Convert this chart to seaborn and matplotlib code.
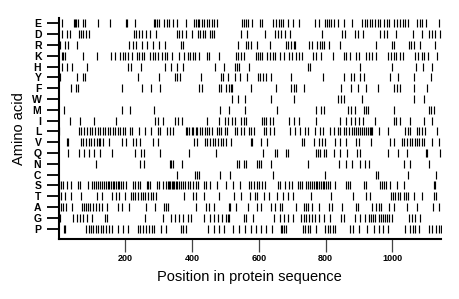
import pandas as pd
import matplotlib
matplotlib.use("Agg")
import matplotlib.pyplot as plt
import seaborn as sns

# =====================================================
# Data: residue positions for each amino acid
# =====================================================

amino_acids = ["E", "D", "R", "K", "H", "Y", "F", "W", "M", "I",
               "L", "V", "Q", "N", "C", "S", "T", "A", "G", "P"]

pos_E = [11, 45, 49, 53, 58, 73, 78, 118, 155, 201, 205, 230, 285, 290, 295, 302, 315, 324, 330,
         344, 356, 381, 406, 412, 417, 422, 429, 436, 444, 452, 459, 467, 474, 548, 554, 560, 566,
         579, 603, 608, 642, 650, 660, 667, 673, 686, 703, 720, 769, 780, 799, 804, 811, 816, 825,
         836, 855, 879, 910, 918, 925, 932, 940, 948, 957, 964, 976, 984, 991, 1005, 1014, 1024,
         1032, 1039, 1046, 1074, 1082, 1090, 1102, 1139]
pos_D = [11, 24, 34, 60, 66, 74, 82, 90, 225, 232, 240, 251, 261, 274, 292, 354, 361, 369, 381,
         399, 418, 425, 432, 440, 454, 460, 467, 546, 564, 617, 647, 656, 667, 679, 692, 789, 848,
         857, 887, 897, 911, 964, 974, 984, 1012, 1061, 1089, 1109, 1119, 1129, 1144]
pos_R = [5, 19, 29, 54, 210, 224, 232, 249, 264, 284, 302, 320, 366, 374, 537, 561, 568, 577,
         594, 632, 682, 688, 696, 704, 709, 750, 760, 773, 784, 789, 796, 809, 844, 952, 1000,
         1006, 1049, 1056, 1066, 1082, 1129]
pos_K = [9, 14, 20, 74, 114, 157, 169, 184, 192, 199, 207, 219, 234, 242, 249, 257, 274, 282,
         289, 297, 309, 318, 326, 341, 361, 377, 389, 394, 402, 410, 422, 444, 451, 481, 530, 536,
         546, 554, 590, 597, 604, 610, 624, 634, 642, 649, 662, 676, 690, 700, 712, 719, 729, 761,
         772, 786, 822, 856, 862, 872, 890, 899, 922, 930, 940, 950, 986, 996, 1004, 1012, 1024,
         1032, 1067, 1076, 1088, 1096, 1107, 1134]
pos_H = [9, 24, 39, 84, 209, 216, 248, 318, 338, 354, 373, 470, 497, 527, 534, 540, 570, 746,
         754, 904, 999, 1071, 1092, 1120]
pos_Y = [5, 56, 72, 79, 238, 302, 348, 354, 364, 427, 488, 494, 509, 529, 542, 564, 597, 604,
         612, 622, 637, 695, 791, 856, 875, 884, 902, 915, 994, 1016, 1064, 1117]
pos_F = [38, 52, 58, 190, 251, 277, 304, 422, 429, 480, 487, 502, 510, 516, 520, 576, 650, 696,
         704, 710, 736, 847, 876, 898, 920, 956, 1006, 1013, 1024, 1064, 1103]
pos_W = [518, 536, 558, 635, 706, 838, 845, 854, 909, 1064, 1094]
pos_M = [15, 189, 214, 285, 485, 510, 557, 653, 770, 786, 794, 867, 876, 888, 914, 921, 928,
         1004, 1110, 1117, 1124]
pos_I = [33, 64, 107, 172, 289, 299, 312, 349, 359, 371, 446, 482, 498, 508, 518, 529, 547, 554,
         561, 608, 614, 622, 632, 642, 690, 704, 720, 770, 844, 862, 875, 888, 900, 911, 947, 1004,
         1012, 1023, 1054, 1094, 1119]
pos_L = [2, 60, 68, 76, 86, 94, 101, 109, 117, 124, 132, 139, 147, 154, 162, 169, 177, 184, 192,
         199, 214, 221, 241, 259, 276, 298, 304, 324, 334, 342, 381, 386, 391, 399, 404, 411, 416,
         424, 431, 438, 444, 451, 459, 474, 480, 486, 499, 506, 528, 534, 546, 556, 570, 577, 586,
         614, 622, 632, 644, 692, 709, 724, 739, 747, 769, 782, 792, 814, 824, 838, 844, 854, 862,
         870, 878, 884, 890, 896, 902, 908, 914, 920, 926, 932, 936, 939, 959, 987, 1039, 1046,
         1054, 1074, 1080, 1088, 1098, 1134]
pos_V = [24, 29, 66, 74, 82, 90, 98, 106, 114, 121, 124, 132, 150, 191, 202, 222, 232, 244, 282,
         298, 405, 414, 438, 446, 454, 462, 470, 478, 486, 494, 502, 516, 575, 580, 607, 625, 730,
         736, 764, 780, 788, 797, 827, 843, 860, 890, 900, 937, 994, 1006, 1029, 1036, 1044, 1052,
         1060, 1068, 1074, 1080, 1089, 1096, 1120, 1141]
pos_Q = [27, 62, 77, 92, 107, 124, 159, 229, 247, 257, 305, 390, 472, 611, 647, 654, 681, 688,
         772, 776, 784, 794, 802, 826, 844, 864, 893, 902, 986, 1016, 1044, 1100, 1105, 1144]
pos_N = [113, 244, 257, 333, 338, 344, 369, 533, 540, 555, 562, 593, 600, 605, 635, 747, 840,
         861, 878, 902, 917, 929, 1034, 1054, 1110]
pos_C = [355, 408, 414, 422, 485, 514, 641, 797, 952, 956, 1046, 1131]
pos_S = [2, 6, 14, 24, 36, 58, 64, 89, 99, 105, 111, 117, 124, 131, 137, 142, 147, 152, 157, 162,
         167, 172, 177, 182, 187, 194, 202, 222, 228, 237, 244, 264, 268, 274, 294, 302, 314, 321,
         327, 331, 335, 339, 343, 347, 351, 355, 360, 368, 374, 380, 388, 394, 402, 412, 418, 436,
         442, 454, 474, 502, 522, 542, 569, 576, 584, 594, 599, 609, 619, 656, 664, 677, 690, 698,
         718, 722, 729, 741, 748, 753, 759, 764, 770, 775, 781, 786, 792, 796, 802, 808, 814, 827,
         860, 866, 872, 916, 921, 962, 969, 976, 981, 994, 1014, 1034, 1124, 1129]
pos_T = [8, 20, 37, 66, 114, 130, 159, 172, 181, 199, 217, 224, 230, 238, 248, 254, 260, 268,
         276, 284, 291, 375, 403, 413, 436, 480, 526, 545, 573, 588, 595, 615, 629, 654, 672, 686,
         701, 755, 817, 881, 922, 932, 996, 1002, 1009, 1016, 1024, 1034, 1042, 1047, 1065, 1090,
         1124, 1130]
pos_A = [6, 14, 22, 40, 71, 76, 82, 88, 95, 102, 112, 120, 130, 146, 179, 190, 212, 261, 288, 316,
         322, 329, 412, 443, 452, 467, 510, 514, 530, 568, 595, 605, 635, 647, 662, 668, 710, 736,
         742, 748, 758, 780, 810, 818, 848, 890, 896, 940, 950, 960, 967, 989, 1004, 1044, 1074,
         1122, 1139]
pos_G = [4, 43, 55, 64, 73, 86, 99, 140, 144, 260, 312, 336, 348, 362, 374, 389, 398, 436, 454,
         465, 479, 491, 502, 508, 512, 554, 562, 582, 645, 664, 676, 687, 702, 727, 734, 741, 749,
         759, 769, 779, 796, 814, 845, 854, 887, 902, 917, 930, 936, 942, 949, 959, 966, 971, 977,
         984, 991, 998, 1051, 1059, 1068, 1082]
pos_P = [17, 20, 82, 90, 96, 104, 111, 119, 127, 134, 142, 150, 161, 177, 194, 208, 238, 245,
         254, 261, 270, 280, 287, 306, 321, 366, 372, 381, 447, 466, 481, 496, 523, 541, 558, 576,
         590, 606, 622, 639, 666, 670, 676, 680, 732, 739, 746, 754, 770, 799, 806, 814, 821, 828,
         874, 882, 899, 924, 944, 960, 972, 988, 1037, 1054, 1062, 1069, 1081, 1110, 1120, 1130,
         1140, 1146]

positions = [pos_E, pos_D, pos_R, pos_K, pos_H, pos_Y, pos_F, pos_W, pos_M, pos_I,
             pos_L, pos_V, pos_Q, pos_N, pos_C, pos_S, pos_T, pos_A, pos_G, pos_P]

seq_length = 1146
x_ticks = [200, 400, 600, 800, 1000]

# long-form table for seaborn
rows = []
for aa, plist in zip(amino_acids, positions):
    for p in plist:
        rows.append({"Amino acid": aa, "Position": p})
df = pd.DataFrame(rows)

# =====================================================
# Plot
# =====================================================

sns.set_style("ticks")
plt.rcParams["font.family"] = ["Liberation Sans", "DejaVu Sans"]
plt.rcParams["text.color"] = "black"
plt.rcParams["axes.labelcolor"] = "black"
plt.rcParams["xtick.color"] = "black"
plt.rcParams["ytick.color"] = "black"

fig, ax = plt.subplots(figsize=(4.6, 2.99), dpi=100)
fig.subplots_adjust(left=0.1276, right=0.9587, bottom=0.2017, top=0.940)

sns.scatterplot(
    data=df,
    x="Position",
    y="Amino acid",
    marker="|",
    s=26,
    linewidth=0.85,
    color="black",
    ax=ax,
    legend=False,
)

ax.set_xlim(0, seq_length)
ax.set_ylim(19.94, -0.5)
ax.set_yticks(range(len(amino_acids)))
ax.set_yticklabels(amino_acids, fontsize=7.5, fontweight="bold")
ax.set_xticks(x_ticks)
ax.set_xticklabels([str(t) for t in x_ticks], fontsize=6.5, fontweight="bold")

ax.tick_params(axis="y", length=8.5, width=1.3, pad=4)
ax.tick_params(axis="x", length=9, width=0.9, pad=2, color="#444444")

sns.despine(ax=ax)
for side in ["left", "bottom"]:
    ax.spines[side].set_linewidth(1.5)
    ax.spines[side].set_color("black")

ax.set_xlabel("Position in protein sequence", fontsize=10.5, labelpad=5)
ax.set_ylabel("Amino acid", fontsize=10.5, labelpad=4)

plt.savefig("out.png", dpi=100)
plt.close()
